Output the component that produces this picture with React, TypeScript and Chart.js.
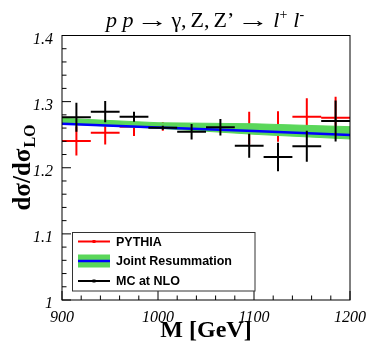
import React, { useEffect, useRef } from 'react';
import { Chart, registerables } from 'chart.js';

Chart.register(...registerables);

// ---- data ----
const massBinEdges = [900, 930, 960, 990, 1020, 1050, 1080, 1110, 1140, 1170, 1200];
const pythiaValues = [1.2405, 1.253, 1.262, 1.2624, 1.262, 1.2615, 1.2601, 1.2624, 1.2772, 1.2757];
const pythiaErrors = [0.022, 0.018, 0.014, 0.0066, 0.004, 0.004, 0.0246, 0.023, 0.0278, 0.0318];
const mcNloValues = [1.2763, 1.2848, 1.2772, 1.2606, 1.2545, 1.2612, 1.2333, 1.2163, 1.2324, 1.2707];
const mcNloErrors = [0.022, 0.016, 0.0076, 0.003, 0.0116, 0.0126, 0.018, 0.0215, 0.0234, 0.031];
const resumMass = [900, 1000, 1100, 1200];
const resumCentral = [1.2665, 1.261, 1.2555, 1.2495];
const resumUpper = [1.2748, 1.2681, 1.2665, 1.2621];
const resumLower = [1.2662, 1.2597, 1.2506, 1.2435];
const xTickLabels = ['900', '1000', '1100', '1200'];
const yTickLabels = ['1', '1.1', '1.2', '1.3', '1.4'];
const legendLabels = ['PYTHIA', 'Joint Resummation', 'MC at NLO'];

const RED = '#ff0000';
const BLACK = '#000000';
const BLUE = '#0000ff';
const GREEN = '#5ad75a';

type P = { x: number; y: number | null };

function horizontalBars(values: number[]): P[] {
  const out: P[] = [];
  values.forEach((v, i) => {
    const lo = massBinEdges[i];
    const hi = massBinEdges[i + 1];
    out.push({ x: lo, y: v }, { x: hi, y: v }, { x: hi, y: null });
  });
  return out;
}

function verticalBars(values: number[], errors: number[]): P[] {
  const out: P[] = [];
  values.forEach((v, i) => {
    const c = (massBinEdges[i] + massBinEdges[i + 1]) / 2;
    out.push({ x: c, y: v - errors[i] }, { x: c, y: v + errors[i] }, { x: c, y: null });
  });
  return out;
}

function lineDs(data: P[], color: string, width: number, order: number, extra: any = {}) {
  return {
    type: 'line' as const,
    data,
    borderColor: color,
    backgroundColor: color,
    borderWidth: width,
    pointRadius: 0,
    spanGaps: false,
    tension: 0,
    fill: false,
    order,
    ...extra,
  };
}

const SERIF = '"Liberation Serif"';

const decorPlugin = {
  id: 'decor',
  afterDraw(chart: any) {
    const { ctx, chartArea: a, scales } = chart;
    const x = scales.x;
    const y = scales.y;
    ctx.save();

    // frame
    ctx.strokeStyle = '#000';
    ctx.lineWidth = 1;
    ctx.strokeRect(a.left, a.top, a.right - a.left, a.bottom - a.top);

    // inside ticks
    ctx.beginPath();
    for (let i = 0; i <= 20; i++) {
      const py = y.getPixelForValue(1 + i * 0.02);
      const len = i % 5 === 0 ? 9 : 4.5;
      ctx.moveTo(a.left, py);
      ctx.lineTo(a.left + len, py);
    }
    for (let i = 0; i <= 15; i++) {
      const px = x.getPixelForValue(900 + i * 20);
      const len = i % 5 === 0 ? 9 : 4.5;
      ctx.moveTo(px, a.bottom);
      ctx.lineTo(px, a.bottom - len);
    }
    ctx.stroke();

    // title: [text, font, dy, targetWidth(0 = natural), gapAfter]
    ctx.fillStyle = '#000';
    ctx.textBaseline = 'alphabetic';
    ctx.textAlign = 'left';
    const base = 27;
    const big = `22px ${SERIF}`;
    const bigI = `italic 22px ${SERIF}`;
    const sup = `14px ${SERIF}`;
    const parts: [string, string, number, number, number][] = [
      ['p p', bigI, 0, 0, 3],
      ['\u2192', big, 0, 32, 3],
      ['\u03b3,', big, 0, 0, 4],
      ['Z,', big, 0, 0, 4],
      ['Z\u2019', big, 0, 0, 3],
      ['\u2192', big, 0, 32, 4],
      ['l', bigI, 0, 0, 0],
      ['+', sup, -8, 0, 6],
      ['l', bigI, 0, 0, 0],
      ['-', sup, -8, 0, 0],
    ];
    let total = 0;
    const widths: number[] = [];
    for (const [t, f, , tw, gap] of parts) {
      ctx.font = f;
      const w = tw || ctx.measureText(t).width;
      widths.push(w);
      total += w + gap;
    }
    let tx = 205 - total / 2;
    parts.forEach(([t, f, dy, tw, gap], i) => {
      ctx.font = f;
      if (tw) {
        const nat = ctx.measureText(t).width;
        ctx.save();
        ctx.translate(tx, base + dy);
        ctx.scale(tw / nat, 1);
        ctx.fillText(t, 0, 0);
        ctx.restore();
      } else {
        ctx.fillText(t, tx, base + dy);
      }
      tx += widths[i] + gap;
    });

    // x axis title
    ctx.font = `bold 24px ${SERIF}`;
    ctx.textAlign = 'center';
    ctx.fillText('M [GeV]', (a.left + a.right) / 2, 337);

    // y axis title (rotated)
    ctx.save();
    ctx.translate(29.5, 168);
    ctx.rotate(-Math.PI / 2);
    const mainF = `bold 25px ${SERIF}`;
    const subF = `bold 16px ${SERIF}`;
    ctx.font = mainF;
    const w1 = ctx.measureText('d\u03c3/d\u03c3').width;
    ctx.font = subF;
    const w2 = ctx.measureText('LO').width;
    const sx = -(w1 + w2) / 2;
    ctx.textAlign = 'left';
    ctx.font = mainF;
    ctx.fillText('d\u03c3/d\u03c3', sx, 0);
    ctx.font = subF;
    ctx.fillText('LO', sx + w1 + 1, 5);
    ctx.restore();

    // legend
    const lx = 72.5, ly = 232.5, lw = 182.5, lh = 58.5;
    ctx.fillStyle = '#fff';
    ctx.fillRect(lx, ly, lw, lh);
    ctx.strokeStyle = '#333';
    ctx.lineWidth = 1;
    ctx.strokeRect(lx, ly, lw, lh);
    const rows = [241.5, 261, 281];
    ctx.strokeStyle = RED;
    ctx.lineWidth = 2;
    ctx.beginPath();
    ctx.moveTo(78, rows[0]);
    ctx.lineTo(110, rows[0]);
    ctx.stroke();
    ctx.fillStyle = RED;
    ctx.fillRect(92.5, rows[0] - 1.5, 3, 3);
    ctx.fillStyle = GREEN;
    ctx.fillRect(78, rows[1] - 6.5, 32, 13);
    ctx.strokeStyle = BLUE;
    ctx.lineWidth = 2.5;
    ctx.beginPath();
    ctx.moveTo(78, rows[1]);
    ctx.lineTo(110, rows[1]);
    ctx.stroke();
    ctx.strokeStyle = BLACK;
    ctx.lineWidth = 2;
    ctx.beginPath();
    ctx.moveTo(78, rows[2]);
    ctx.lineTo(110, rows[2]);
    ctx.stroke();
    ctx.fillStyle = BLACK;
    ctx.fillRect(92.5, rows[2] - 1.5, 3, 3);

    ctx.fillStyle = '#000';
    ctx.font = 'bold 12.5px "Liberation Sans"';
    ctx.textAlign = 'left';
    ctx.textBaseline = 'middle';
    legendLabels.forEach((lab, i) => ctx.fillText(lab, 116, rows[i] + 1));

    ctx.restore();
  },
};

export default function App() {
  const ref = useRef<HTMLCanvasElement | null>(null);

  useEffect(() => {
    document.body.style.margin = '0';
    const canvas = ref.current;
    if (!canvas) return;

    const resumCentralPts = resumMass.map((m, i) => ({ x: m, y: resumCentral[i] }));
    const resumUpperPts = resumMass.map((m, i) => ({ x: m, y: resumUpper[i] }));
    const resumLowerPts = resumMass.map((m, i) => ({ x: m, y: resumLower[i] }));

    const chart = new Chart(canvas, {
      type: 'line',
      data: {
        datasets: [
          lineDs(horizontalBars(mcNloValues), BLACK, 2, 0),
          lineDs(verticalBars(mcNloValues, mcNloErrors), BLACK, 2, 0),
          lineDs(resumCentralPts, BLUE, 2.5, 1),
          lineDs(resumUpperPts, GREEN, 1, 2, { fill: '+1', backgroundColor: GREEN }),
          lineDs(resumLowerPts, GREEN, 1, 2),
          lineDs(horizontalBars(pythiaValues), RED, 2, 3),
          lineDs(verticalBars(pythiaValues, pythiaErrors), RED, 2, 3),
        ] as any,
      },
      options: {
        responsive: false,
        animation: false,
        devicePixelRatio: 1,
        layout: { padding: { top: 35.5, right: 20, left: 0, bottom: 0 } },
        plugins: { legend: { display: false }, tooltip: { enabled: false } },
        scales: {
          x: {
            type: 'linear',
            min: 900,
            max: 1200,
            grid: { display: false, drawTicks: false },
            border: { display: false },
            ticks: {
              stepSize: 100,
              padding: 8,
              maxRotation: 0,
              autoSkip: false,
              color: '#000',
              font: { family: 'Liberation Serif', size: 16, style: 'italic' },
              callback: (_v: any, i: number) => xTickLabels[i],
            },
            afterFit: (s: any) => {
              s.height = 48;
            },
          },
          y: {
            type: 'linear',
            min: 1,
            max: 1.4,
            grid: { display: false, drawTicks: false },
            border: { display: false },
            ticks: {
              stepSize: 0.1,
              padding: 9,
              labelOffset: 4,
              autoSkip: false,
              color: '#000',
              font: { family: 'Liberation Serif', size: 16, style: 'italic' },
              callback: (_v: any, i: number) => yTickLabels[i],
            },
            afterFit: (s: any) => {
              s.width = 62;
            },
          },
        },
      } as any,
      plugins: [decorPlugin],
    });

    return () => chart.destroy();
  }, []);

  return (
    <div style={{ width: 374, height: 348, background: '#fff' }}>
      <canvas ref={ref} width={374} height={348} style={{ display: 'block' }} />
    </div>
  );
}
